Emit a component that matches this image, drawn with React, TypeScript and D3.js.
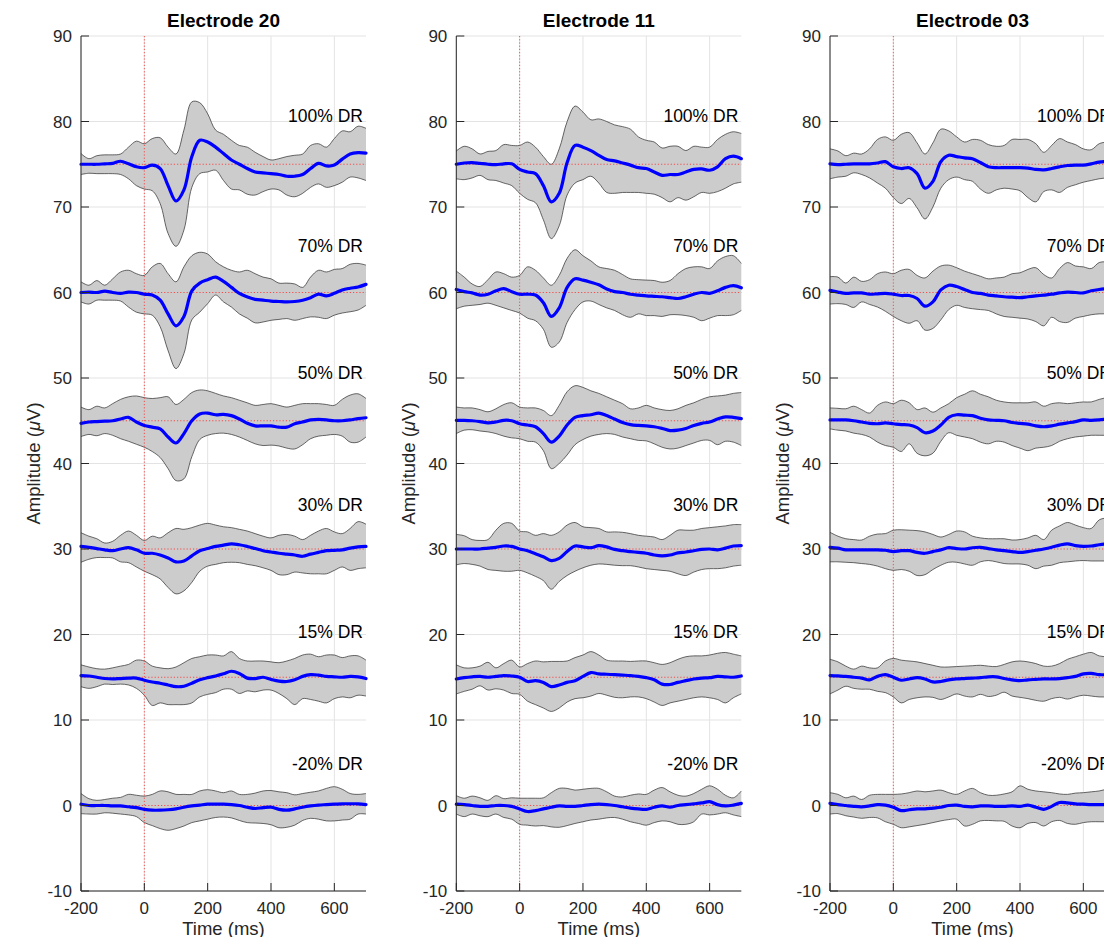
import React from 'react';
import * as d3 from 'd3';

// Sample times (ms) shared by every trace
const TIME_MS = [-200, -175, -150, -125, -100, -75, -50, -25, 0, 25, 50, 75, 100, 125, 150, 175, 200, 225, 250, 275, 300, 325, 350, 375, 400, 425, 450, 475, 500, 525, 550, 575, 600, 625, 650, 675, 700];

const ELECTRODES = ['Electrode 20', 'Electrode 11', 'Electrode 03'];
const CONDITIONS = ['100% DR', '70% DR', '50% DR', '30% DR', '15% DR', '-20% DR'];
// Vertical offset (µV) at which each condition is stacked
const OFFSETS = [75, 60, 45, 30, 15, 0];
// Height (µV) of each condition label
const LABEL_LEVELS = [80.7, 65.5, 50.6, 35.15, 20.3, 4.9];
const X_TICKS = [-200, 0, 200, 400, 600];
const Y_TICKS = [-10, 0, 10, 20, 30, 40, 50, 60, 70, 80, 90];

// Traces are stored relative to their condition offset, one row per condition.
const E20_MEAN = [
  [0, 0, 0, 0.05, 0.1, 0.35, 0.05, -0.3, -0.4, -0.1, -0.5, -2.5, -4.3, -3.0, 0.9, 2.8, 2.6, 2.0, 1.25, 0.5, 0, -0.5, -0.9, -1.0, -1.1, -1.2, -1.4, -1.4, -1.2, -0.5, 0.1, -0.2, -0.1, 0.6, 1.2, 1.35, 1.3],
  [0, 0.05, 0, 0.15, 0, -0.1, 0.05, 0, -0.2, -0.3, -0.9, -2.5, -3.9, -2.8, 0.2, 1.1, 1.5, 1.8, 1.3, 0.6, -0.1, -0.5, -0.8, -0.9, -1.0, -1.05, -1.1, -1.05, -0.9, -0.6, -0.2, -0.4, -0.1, 0.3, 0.5, 0.65, 0.95],
  [-0.3, -0.15, -0.1, -0.05, 0, 0.2, 0.4, -0.15, -0.55, -0.75, -0.95, -1.9, -2.6, -1.5, 0, 0.8, 0.9, 0.7, 0.75, 0.6, 0.2, -0.3, -0.6, -0.6, -0.6, -0.75, -0.75, -0.35, -0.15, 0.1, 0.15, 0.1, 0, 0, 0.1, 0.25, 0.35],
  [0.3, 0.2, 0.05, -0.1, -0.2, 0, 0.15, -0.1, -0.5, -0.5, -0.7, -1.05, -1.5, -1.4, -0.8, -0.2, 0.05, 0.3, 0.45, 0.6, 0.5, 0.3, 0.05, -0.2, -0.35, -0.5, -0.6, -0.7, -0.85, -0.6, -0.4, -0.2, -0.15, -0.1, 0.1, 0.25, 0.3],
  [0.2, 0.15, 0, -0.15, -0.2, -0.15, -0.1, -0.1, -0.35, -0.55, -0.7, -0.9, -1.1, -1.05, -0.7, -0.3, -0.05, 0.15, 0.4, 0.7, 0.45, -0.1, -0.15, 0, -0.25, -0.45, -0.5, -0.3, 0.1, 0.3, 0.25, 0.1, 0.05, 0, 0.1, 0.05, -0.15],
  [0.15, 0, 0, 0, -0.05, -0.05, -0.15, -0.25, -0.45, -0.55, -0.55, -0.5, -0.4, -0.2, -0.05, 0.05, 0.15, 0.15, 0.15, 0.1, 0, -0.2, -0.35, -0.25, -0.2, -0.45, -0.55, -0.4, -0.2, -0.05, 0.05, 0.1, 0.15, 0.2, 0.2, 0.2, 0.1],
];
const E20_UPPER = [
  [1.25, 0.65, 1.0, 1.1, 1.1, 1.2, 2.0, 2.7, 2.4, 3.0, 3.1, 2.0, 1.2, 4.0, 7.3, 7.2, 5.9, 4.0, 3.5, 2.8, 2.2, 2.0, 1.4, 0.9, 0.5, 0.65, 0.9, 1.05, 1.2, 2.2, 2.4, 2.0, 3.0, 3.9, 3.8, 4.45, 4.2],
  [1.25, 0.85, 1.4, 0.85, 1.6, 2.4, 2.6, 2.2, 2.0, 3.0, 3.4, 2.2, 1.25, 3.0, 4.3, 4.7, 4.5, 3.6, 3.0, 2.6, 2.4, 2.6, 2.2, 1.8, 1.6, 1.1, 1.1, 1.0, 0.6, 1.8, 2.6, 2.4, 2.7, 2.8, 3.3, 3.4, 3.2],
  [1.6, 1.3, 1.7, 1.5, 2.0, 2.5, 2.8, 2.9, 2.7, 2.6, 2.7, 2.8, 1.9, 2.5, 3.3, 3.6, 3.5, 3.2, 2.9, 2.7, 2.4, 2.1, 1.8, 1.9, 2.0, 1.8, 1.6, 1.8, 2.0, 2.0, 2.0, 1.9, 1.8, 2.5, 3.0, 3.15, 2.6],
  [1.9, 1.5, 1.2, 0.7, 0.9, 1.6, 2.1, 1.6, 1.0, 1.5, 1.3, 1.9, 2.4, 2.3, 2.5, 2.8, 3.0, 2.8, 2.6, 2.5, 2.3, 2.1, 1.8, 1.5, 1.3, 1.6, 1.7, 1.5, 1.1, 1.6, 2.1, 2.4, 2.0, 1.8, 2.4, 3.2, 2.9],
  [1.45, 1.2, 1.0, 0.95, 1.1, 1.3, 1.5, 2.0, 1.9, 1.3, 1.1, 1.0, 1.2, 1.7, 2.2, 2.4, 2.6, 2.6, 2.5, 3.0, 2.2, 1.9, 1.9, 1.9, 1.8, 1.7, 1.9, 2.2, 2.6, 2.7, 2.4, 2.6, 2.6, 2.3, 2.5, 2.5, 2.0],
  [1.4, 0.8, 0.6, 0.7, 0.85, 0.95, 1.3, 1.2, 1.1, 1.3, 1.7, 1.6, 1.3, 1.3, 1.3, 1.7, 1.85, 1.7, 1.5, 1.7, 1.3, 1.3, 1.45, 1.7, 1.75, 1.6, 1.5, 1.25, 1.4, 1.55, 1.7, 2.0, 2.2, 1.9, 1.4, 1.3, 1.4],
];
const E20_LOWER = [
  [-1.2, -1.05, -1.1, -1.1, -1.1, -1.2, -1.7, -2.5, -2.9, -3.1, -4.6, -8.1, -9.6, -7.7, -2.7, -1.1, -0.9, -0.7, -1.9, -2.9, -3.0, -3.5, -3.6, -3.2, -2.9, -3.0, -3.6, -3.8, -3.4, -2.7, -2.3, -2.7, -2.5, -2.1, -1.5, -1.6, -1.9],
  [-1.1, -1.35, -0.9, -0.9, -0.9, -1.0, -1.7, -2.3, -2.5, -2.65, -4.0, -6.8, -8.9, -7.15, -3.2, -2.3, -1.3, -0.3, -1.1, -1.7, -2.5, -3.0, -3.55, -3.45, -3.25, -3.15, -3.05, -3.25, -3.05, -2.85, -2.9, -3.05, -2.65, -2.4, -2.25, -2.05, -1.5],
  [-1.85, -1.6, -1.75, -1.5, -1.7, -2.1, -2.4, -2.75, -3.1, -3.6, -4.3, -5.6, -7.0, -6.8, -4.2, -2.2, -1.7, -1.5, -1.45, -1.6, -1.9, -2.3, -2.7, -2.9, -2.85, -2.95, -3.2, -3.3, -2.8, -2.1, -1.8, -1.7, -1.6, -1.8, -2.5, -2.5, -1.9],
  [-1.55, -1.2, -1.0, -1.0, -1.05, -1.5, -1.6, -2.1, -2.6, -3.0, -3.5, -4.5, -5.25, -4.9, -3.9, -2.6, -2.0, -1.8, -1.6, -1.55, -1.6, -1.8, -1.95, -2.2, -2.5, -3.0, -3.0, -2.7, -2.8, -2.9, -2.9, -2.9, -2.5, -2.1, -2.5, -2.3, -2.2],
  [-1.1, -1.3, -1.1, -0.8, -0.85, -0.8, -0.9, -1.3, -2.1, -3.3, -3.0, -3.2, -3.2, -3.2, -3.0, -2.3, -2.0, -1.8, -1.4, -1.4, -1.9, -1.6, -1.7, -1.5, -1.5, -1.9, -2.5, -3.2, -2.5, -2.6, -2.8, -3.0, -2.5, -2.3, -2.4, -2.1, -2.2],
  [-0.95, -1.0, -1.0, -0.85, -0.9, -1.0, -1.1, -1.3, -2.0, -2.35, -2.7, -2.9, -2.7, -2.4, -2.0, -1.8, -1.6, -1.4, -1.35, -1.45, -1.75, -2.0, -2.05, -2.1, -2.25, -2.6, -2.55, -2.3, -1.75, -1.5, -1.6, -1.8, -1.8, -1.7, -1.6, -1.0, -1.0],
];

const E11_MEAN = [
  [0, 0.15, 0.2, 0.1, 0, -0.05, 0.05, 0.05, -0.6, -0.9, -1.1, -2.5, -4.4, -3.4, 0.2, 2.2, 2.0, 1.6, 1.05, 0.55, 0.4, 0.15, -0.1, -0.4, -0.5, -0.9, -1.3, -1.2, -1.2, -0.9, -0.6, -0.55, -0.7, -0.3, 0.65, 0.95, 0.65],
  [0.35, 0.1, -0.05, -0.3, -0.2, 0.2, 0.45, 0.1, -0.2, -0.2, -0.3, -1.2, -2.8, -1.8, 0.6, 1.6, 1.45, 1.2, 0.9, 0.4, 0.1, 0, -0.2, -0.3, -0.4, -0.45, -0.5, -0.6, -0.7, -0.5, -0.2, 0, -0.1, 0.2, 0.6, 0.8, 0.55],
  [0.05, 0.05, 0, -0.1, -0.25, -0.15, 0.05, 0, -0.35, -0.5, -0.7, -1.5, -2.5, -1.8, -0.5, 0.4, 0.6, 0.7, 0.9, 0.6, 0.2, -0.2, -0.45, -0.55, -0.6, -0.7, -0.9, -1.15, -1.1, -0.9, -0.55, -0.3, -0.15, 0.2, 0.45, 0.4, 0.25],
  [0, 0, 0, 0, 0.1, 0.2, 0.35, 0.3, 0, -0.2, -0.55, -0.9, -1.35, -1.1, -0.3, 0.35, 0.25, 0.15, 0.4, 0.25, -0.05, -0.2, -0.3, -0.4, -0.5, -0.7, -0.8, -0.7, -0.45, -0.35, -0.2, -0.05, 0, -0.1, 0.1, 0.35, 0.4],
  [-0.2, -0.05, 0.05, 0.1, 0, 0.1, 0.2, 0.15, 0, -0.5, -0.4, -0.6, -1.1, -0.9, -0.6, -0.4, 0.1, 0.55, 0.4, 0.35, 0.3, 0.25, 0.2, 0.1, -0.05, -0.3, -0.8, -0.85, -0.6, -0.4, -0.2, -0.1, -0.05, 0.1, 0.05, 0, 0.15],
  [0.15, 0.1, 0, -0.1, -0.1, 0, 0, -0.1, -0.4, -0.7, -0.6, -0.4, -0.2, -0.05, -0.1, -0.1, 0, 0.1, 0.15, 0.1, 0, -0.15, -0.3, -0.4, -0.45, -0.2, -0.05, -0.2, 0, 0.1, 0.2, 0.3, 0.45, 0.1, -0.05, 0.05, 0.25],
];
const E11_UPPER = [
  [1.55, 2.1, 1.8, 1.2, 1.5, 1.6, 2.3, 2.2, 2.2, 2.6, 2.0, 0.9, 0.0, 1.8, 5.0, 6.8, 6.1, 5.2, 5.3, 5.0, 4.6, 4.4, 4.1, 3.2, 2.8, 2.6, 1.9, 2.1, 2.1, 1.6, 2.1, 2.0, 2.0, 2.9, 3.5, 3.8, 3.6],
  [2.5, 1.8, 1.0, 0.7, 1.5, 2.4, 2.2, 1.8, 2.0, 3.0, 2.6, 1.7, 0.85, 2.0, 4.0, 5.0, 4.3, 3.7, 3.0, 2.8, 2.6, 2.1, 1.6, 1.5, 1.45, 1.4, 1.2, 1.4, 2.2, 2.8, 3.0, 3.0, 2.8, 3.7, 4.2, 4.3, 3.4],
  [1.6, 1.5, 1.5, 1.3, 1.05, 1.4, 1.9, 2.1, 1.6, 1.5, 1.5, 1.2, 0.6, 1.8, 3.4, 4.1, 3.9, 3.5, 3.2, 2.8, 2.4, 2.0, 1.4, 1.5, 1.8, 1.5, 1.3, 1.2, 1.4, 1.8, 2.1, 2.5, 2.8, 2.9, 3.0, 3.2, 3.3],
  [1.7, 1.55, 1.1, 1.0, 1.1, 2.2, 3.0, 3.0, 2.1, 2.0, 1.6, 1.8, 1.6, 2.0, 2.8, 3.1, 2.6, 2.5, 2.4, 2.0, 2.0, 1.95, 1.8, 1.6, 1.5, 1.4, 1.1, 1.6, 2.2, 2.2, 2.2, 2.4, 2.5, 2.6, 2.7, 2.85, 2.85],
  [1.45, 1.1, 1.1, 1.3, 1.75, 1.1, 1.6, 2.0, 1.2, 1.6, 1.9, 1.8, 1.85, 1.85, 1.9, 2.3, 2.6, 3.0, 2.6, 2.0, 1.9, 1.9, 1.85, 1.9, 1.9, 1.7, 1.5, 1.7, 2.1, 2.4, 2.5, 2.5, 2.6, 2.8, 2.9, 2.7, 2.5],
  [1.15, 0.85, 1.1, 0.9, 0.6, 1.15, 0.8, 0.9, 0.85, 0.85, 0.85, 0.9, 1.5, 2.0, 2.0, 1.8, 1.9, 2.0, 2.0, 1.6, 1.1, 1.0, 1.2, 1.35, 1.3, 1.8, 2.1, 1.6, 1.2, 1.1, 1.4, 1.9, 2.3, 1.9, 1.2, 0.9, 1.7],
];
const E11_LOWER = [
  [-1.7, -1.8, -1.6, -1.3, -1.8, -1.9, -2.2, -2.5, -3.4, -4.1, -4.5, -6.5, -8.7, -7.2, -3.6, -2.2, -1.8, -1.4, -2.2, -3.3, -3.4, -3.3, -3.3, -3.3, -3.4, -3.5, -3.9, -4.4, -3.9, -4.2, -3.8, -3.3, -3.4, -3.2, -2.8, -2.3, -2.1],
  [-1.9, -1.6, -1.5, -1.4, -1.25, -1.5, -1.8, -2.1, -2.4, -3.0, -3.3, -4.3, -6.4, -5.8, -3.5, -2.0, -1.1, -1.0, -1.4, -1.8, -2.1, -2.6, -2.9, -2.5, -2.7, -2.7, -2.8, -2.6, -2.6, -2.7, -2.9, -3.3, -3.0, -2.7, -2.7, -2.6, -2.1],
  [-1.5, -1.1, -1.05, -1.2, -1.3, -1.5, -1.8, -2.0, -2.1, -2.4, -2.5, -3.5, -5.6, -5.0, -4.0, -2.8, -2.2, -1.8, -1.6, -1.5, -1.6, -1.9, -2.1, -2.3, -2.35, -2.7, -3.1, -3.3, -3.2, -2.9, -2.6, -2.3, -2.3, -2.8, -2.4, -2.5, -2.9],
  [-1.85, -1.7, -1.8, -2.0, -2.4, -2.5, -2.6, -2.6, -2.5, -2.8, -3.2, -3.7, -4.7, -3.8, -3.1, -2.6, -2.2, -1.9, -1.75, -1.8, -1.9, -1.95, -1.95, -2.1, -2.3, -2.4, -2.5, -2.6, -2.9, -3.1, -2.7, -2.4, -2.3, -2.3, -2.2, -2.0, -1.9],
  [-1.95, -1.65, -1.4, -1.0, -1.5, -1.35, -1.5, -1.9, -2.0, -2.8, -3.2, -3.6, -4.0, -3.6, -2.9, -2.5, -2.4, -2.2, -1.9, -2.1, -2.35, -2.4, -2.3, -2.3, -2.5, -2.9, -3.3, -3.0, -2.8, -2.6, -2.4, -2.3, -2.4, -2.6, -3.0, -2.4, -1.95],
  [-1.0, -1.3, -1.0, -1.2, -1.3, -1.0, -1.4, -1.6, -2.2, -2.3, -2.4, -2.35, -2.5, -2.55, -2.35, -2.1, -1.9, -1.7, -1.6, -1.45, -1.4, -1.6, -1.9, -2.1, -2.3, -2.0, -1.8, -1.9, -2.2, -2.2, -1.9, -1.0, -1.1, -1.0, -0.85, -1.1, -1.3],
];

const E03_MEAN = [
  [0.05, -0.05, 0, 0.05, 0.05, 0.05, 0.15, 0.3, -0.3, -0.5, -0.4, -1.1, -2.8, -2.0, 0.3, 1.05, 0.9, 0.75, 0.65, 0.2, -0.3, -0.4, -0.4, -0.4, -0.4, -0.45, -0.6, -0.65, -0.5, -0.3, -0.15, -0.1, -0.1, 0.05, 0.25, 0.35, 0.4],
  [0.25, 0.05, -0.1, -0.05, -0.05, -0.2, -0.15, -0.1, -0.2, -0.35, -0.35, -0.7, -1.6, -1.1, 0.3, 0.85, 0.7, 0.35, 0, -0.1, -0.3, -0.4, -0.5, -0.55, -0.6, -0.5, -0.4, -0.3, -0.2, -0.05, 0.05, 0, -0.05, 0.2, 0.35, 0.45, 0.5],
  [0.1, 0.1, 0.1, 0, -0.15, -0.3, -0.35, -0.25, -0.35, -0.45, -0.5, -0.8, -1.4, -1.2, -0.5, 0.4, 0.7, 0.65, 0.6, 0.3, 0.1, 0.05, 0, -0.2, -0.3, -0.4, -0.6, -0.7, -0.6, -0.4, -0.25, -0.1, 0.1, 0.05, 0.1, 0.2, 0.3],
  [0.2, 0.1, -0.1, -0.1, -0.1, -0.1, -0.1, -0.15, -0.3, -0.2, -0.2, -0.4, -0.5, -0.3, -0.1, 0.15, 0.05, 0, 0.15, 0.2, 0.05, -0.1, -0.2, -0.3, -0.4, -0.3, -0.15, 0, 0.2, 0.45, 0.6, 0.4, 0.3, 0.35, 0.5, 0.6, 0.6],
  [0.2, 0.15, 0.1, 0, -0.1, -0.3, 0.1, 0.3, 0, -0.35, -0.2, -0.05, -0.2, -0.55, -0.5, -0.3, -0.2, -0.15, -0.1, -0.05, 0.05, 0.05, -0.15, -0.3, -0.4, -0.3, -0.25, -0.2, -0.2, -0.15, -0.05, 0.1, 0.4, 0.45, 0.3, 0.3, 0.3],
  [0.25, 0.1, 0, -0.1, -0.15, -0.05, 0.1, 0.05, -0.2, -0.6, -0.5, -0.4, -0.4, -0.3, -0.2, 0, 0.05, -0.1, -0.15, -0.05, -0.05, -0.1, -0.1, -0.05, -0.1, 0.05, -0.2, -0.45, -0.1, 0.35, 0.3, 0.2, 0.15, 0.1, 0.1, 0.1, 0.1],
];
const E03_UPPER = [
  [1.8, 1.55, 1.0, 1.3, 1.2, 1.8, 2.9, 3.2, 2.8, 3.5, 3.7, 2.5, 1.2, 2.5, 4.1, 3.9, 3.2, 2.6, 2.9, 2.8, 2.3, 2.1, 2.2, 2.9, 2.9, 2.9, 2.4, 1.4, 2.2, 3.0, 2.6, 2.3, 1.8, 1.7, 2.4, 2.6, 2.6],
  [1.85, 1.8, 1.1, 1.8, 1.3, 1.5, 2.2, 2.4, 2.2, 2.6, 2.7, 2.0, 1.7, 2.5, 3.1, 3.2, 2.9, 2.5, 2.2, 1.9, 1.6, 1.7, 1.8, 2.2, 2.3, 2.7, 2.9, 2.1, 1.7, 2.8, 3.5, 3.1, 3.0, 2.8, 3.5, 3.6, 3.6],
  [1.5, 1.45, 1.4, 1.7, 1.3, 0.9, 1.8, 2.2, 2.0, 2.4, 2.1, 1.3, 1.5, 1.0, 1.5, 2.0, 2.7, 3.1, 3.5, 3.1, 2.8, 2.4, 2.2, 2.1, 2.1, 2.1, 2.2, 1.7, 2.0, 2.1, 2.0, 2.1, 2.2, 2.2, 2.5, 2.7, 2.8],
  [1.95, 1.5, 1.2, 1.1, 1.05, 1.5, 1.75, 1.8, 2.2, 2.25, 2.2, 2.15, 2.0, 1.7, 1.4, 1.7, 2.1, 2.0, 1.5, 1.3, 1.2, 1.2, 1.2, 1.05, 1.1, 1.3, 1.6, 1.1, 2.2, 2.7, 3.1, 2.8, 2.5, 2.4, 3.4, 3.6, 3.3],
  [2.1, 1.8, 1.3, 0.95, 1.3, 1.1, 1.1, 1.9, 2.2, 2.0, 1.9, 1.8, 1.6, 1.4, 1.2, 1.2, 1.25, 1.3, 1.35, 1.4, 1.3, 1.25, 1.5, 1.8, 1.9, 1.8, 1.6, 1.3, 1.3, 1.6, 2.1, 2.4, 2.7, 2.9, 2.5, 2.4, 2.4],
  [1.5, 1.3, 0.9, 1.1, 0.7, 1.2, 1.3, 1.3, 1.3, 1.35, 1.5, 1.7, 1.6, 1.7, 1.8, 1.5, 1.3, 1.7, 2.0, 1.5, 1.2, 1.2, 1.35, 1.6, 2.3, 1.9, 1.7, 1.6, 1.5, 1.35, 1.3, 1.45, 1.5, 1.6, 1.7, 1.9, 1.9],
];
const E03_LOWER = [
  [-1.7, -1.5, -1.4, -1.0, -1.2, -1.6, -2.2, -2.8, -3.9, -4.6, -4.0, -5.1, -6.4, -5.0, -2.8, -1.8, -1.5, -1.8, -2.0, -2.9, -3.4, -3.0, -2.8, -2.9, -3.1, -3.9, -4.4, -3.2, -3.0, -3.3, -2.7, -2.4, -2.1, -1.9, -1.7, -1.6, -1.6],
  [-1.35, -1.3, -1.4, -1.75, -1.1, -1.4, -1.7, -2.2, -2.8, -3.3, -3.6, -3.3, -4.4, -4.2, -3.2, -2.0, -1.5, -1.75, -1.9, -2.0, -2.1, -2.5, -2.8, -2.9, -3.0, -3.1, -3.4, -3.9, -2.9, -3.4, -3.5, -3.0, -2.8, -2.6, -2.5, -2.5, -2.5],
  [-0.95, -1.1, -1.2, -1.45, -1.6, -1.9, -2.5, -2.9, -3.1, -3.6, -2.7, -3.8, -4.1, -3.8, -2.4, -1.4, -1.7, -1.9, -2.1, -2.5, -2.7, -2.4, -2.5, -2.9, -3.2, -3.5, -3.2, -3.1, -2.9, -2.4, -2.1, -1.9, -1.8, -1.7, -1.7, -1.7, -1.7],
  [-1.5, -1.5, -1.55, -1.6, -1.7, -1.8, -2.0, -2.3, -2.5, -2.4, -2.6, -3.1, -3.0, -2.4, -1.9, -1.55, -1.55, -1.75, -1.9, -1.5, -1.35, -1.5, -1.7, -1.75, -1.75, -1.9, -2.3, -2.0, -1.9, -1.6, -1.5, -1.4, -1.35, -1.4, -1.4, -1.4, -1.4],
  [-1.95, -1.5, -1.05, -1.3, -1.4, -1.4, -1.65, -1.8, -2.3, -3.0, -2.6, -2.4, -2.3, -2.35, -2.6, -2.3, -1.95, -2.2, -2.3, -2.0, -2.25, -2.1, -1.75, -2.2, -2.35, -2.5, -2.7, -2.8, -2.5, -2.35, -2.55, -2.3, -2.1, -2.2, -2.3, -2.3, -2.3],
  [-1.0, -0.95, -1.2, -1.35, -1.5, -1.4, -1.45, -1.9, -2.2, -2.6, -2.5, -2.35, -2.2, -2.0, -1.8, -1.65, -1.6, -2.4, -2.2, -1.8, -1.75, -1.8, -1.85, -2.4, -2.6, -2.1, -2.0, -2.4, -1.9, -1.75, -2.1, -2.2, -2.0, -1.9, -1.9, -1.9, -1.9],
];

const PANEL_DATA = [
  { mean: E20_MEAN, upper: E20_UPPER, lower: E20_LOWER },
  { mean: E11_MEAN, upper: E11_UPPER, lower: E11_LOWER },
  { mean: E03_MEAN, upper: E03_UPPER, lower: E03_LOWER },
];

const FONT = '"Liberation Sans", Arial, Helvetica, sans-serif';
const AXIS_COLOR = '#262626';

const WIDTH = 1104;
const HEIGHT = 937;
const PLOT_TOP = 36;
const PLOT_W = 285;
const PLOT_H = 855;
const PANEL_LEFT = [81, 456.3, 830];

type PanelProps = {
  title: string;
  mean: number[][];
  upper: number[][];
  lower: number[][];
  left: number;
};

function Panel({ title, mean, upper, lower, left }: PanelProps) {
  const x = d3.scaleLinear().domain([-200, 700]).range([0, PLOT_W]);
  const y = d3.scaleLinear().domain([-10, 90]).range([PLOT_H, 0]);
  const curve = d3.curveCatmullRom.alpha(0.5);

  const edge = (offset: number) =>
    d3
      .line<number>()
      .x((_, i) => x(TIME_MS[i]))
      .y((d) => y(offset + d))
      .curve(curve);

  const band = (offset: number, hi: number[]) =>
    d3
      .area<number>()
      .x((_, i) => x(TIME_MS[i]))
      .y0((d) => y(offset + d))
      .y1((_, i) => y(offset + hi[i]))
      .curve(curve);

  return (
    <g transform={`translate(${left},${PLOT_TOP})`}>
      {/* grid */}
      {Y_TICKS.map((v) => (
        <line key={`gy${v}`} x1={0} x2={PLOT_W} y1={y(v)} y2={y(v)} stroke="#e3e3e3" strokeWidth={1} />
      ))}
      {X_TICKS.map((v) => (
        <line key={`gx${v}`} x1={x(v)} x2={x(v)} y1={0} y2={PLOT_H} stroke="#e3e3e3" strokeWidth={1} />
      ))}

      {/* confidence bands */}
      {OFFSETS.map((off, k) => (
        <g key={`band${k}`}>
          <path d={band(off, upper[k])(lower[k]) || ''} fill="#cccccc" stroke="none" />
          <path d={edge(off)(upper[k]) || ''} fill="none" stroke="#2a2a2a" strokeWidth={0.7} />
          <path d={edge(off)(lower[k]) || ''} fill="none" stroke="#2a2a2a" strokeWidth={0.7} />
        </g>
      ))}

      {/* stimulus onset */}
      <line x1={x(0)} x2={x(0)} y1={0} y2={PLOT_H} stroke="#ff2a2a" strokeWidth={0.8} strokeDasharray="1.2,2" />

      {/* baselines */}
      {OFFSETS.map((off) => (
        <line key={`base${off}`} x1={0} x2={PLOT_W} y1={y(off)} y2={y(off)} stroke="#ff2a2a" strokeWidth={0.8} strokeDasharray="1.2,2" />
      ))}

      {/* mean responses */}
      {OFFSETS.map((off, k) => (
        <path key={`mean${k}`} d={edge(off)(mean[k]) || ''} fill="none" stroke="#0000ff" strokeWidth={3.2} strokeLinejoin="round" strokeLinecap="round" />
      ))}

      {/* condition labels */}
      {CONDITIONS.map((c, k) => (
        <text key={c} x={282} y={y(LABEL_LEVELS[k])} dy="0.36em" textAnchor="end" fontFamily={FONT} fontSize={17.5} fill="#000">
          {c}
        </text>
      ))}

      {/* axes */}
      <line x1={0} x2={0} y1={0} y2={PLOT_H} stroke={AXIS_COLOR} strokeWidth={1} />
      <line x1={0} x2={PLOT_W} y1={PLOT_H} y2={PLOT_H} stroke={AXIS_COLOR} strokeWidth={1} />
      {Y_TICKS.map((v) => (
        <g key={`ty${v}`}>
          <line x1={0} x2={8} y1={y(v)} y2={y(v)} stroke={AXIS_COLOR} strokeWidth={1} />
          <text x={-9} y={y(v)} dy="0.36em" textAnchor="end" fontFamily={FONT} fontSize={17} fill={AXIS_COLOR}>
            {v}
          </text>
        </g>
      ))}
      {X_TICKS.map((v) => (
        <g key={`tx${v}`}>
          <line x1={x(v)} x2={x(v)} y1={PLOT_H} y2={PLOT_H - 8} stroke={AXIS_COLOR} strokeWidth={1} />
          <text x={x(v)} y={PLOT_H + 17} dy="0.36em" textAnchor="middle" fontFamily={FONT} fontSize={17} fill={AXIS_COLOR}>
            {v}
          </text>
        </g>
      ))}

      <text x={PLOT_W / 2} y={-9} textAnchor="middle" fontFamily={FONT} fontSize={19} fontWeight="bold" fill="#000">
        {title}
      </text>
      <text x={PLOT_W / 2} y={PLOT_H + 37} dy="0.36em" textAnchor="middle" fontFamily={FONT} fontSize={18.5} fill={AXIS_COLOR}>
        Time (ms)
      </text>
      <text
        transform={`translate(-48,${PLOT_H / 2}) rotate(-90)`}
        textAnchor="middle"
        dy="0.36em"
        fontFamily={FONT}
        fontSize={18.5}
        fill={AXIS_COLOR}
      >
        Amplitude (<tspan fontStyle="italic">μ</tspan>V)
      </text>
    </g>
  );
}

export default function App() {
  return (
    <svg
      width={WIDTH}
      height={HEIGHT}
      style={{ position: 'absolute', left: 0, top: 0, background: '#fff' }}
    >
      <rect x={0} y={0} width={WIDTH} height={HEIGHT} fill="#fff" />
      {ELECTRODES.map((name, i) => (
        <Panel
          key={name}
          title={name}
          mean={PANEL_DATA[i].mean}
          upper={PANEL_DATA[i].upper}
          lower={PANEL_DATA[i].lower}
          left={PANEL_LEFT[i]}
        />
      ))}
    </svg>
  );
}
